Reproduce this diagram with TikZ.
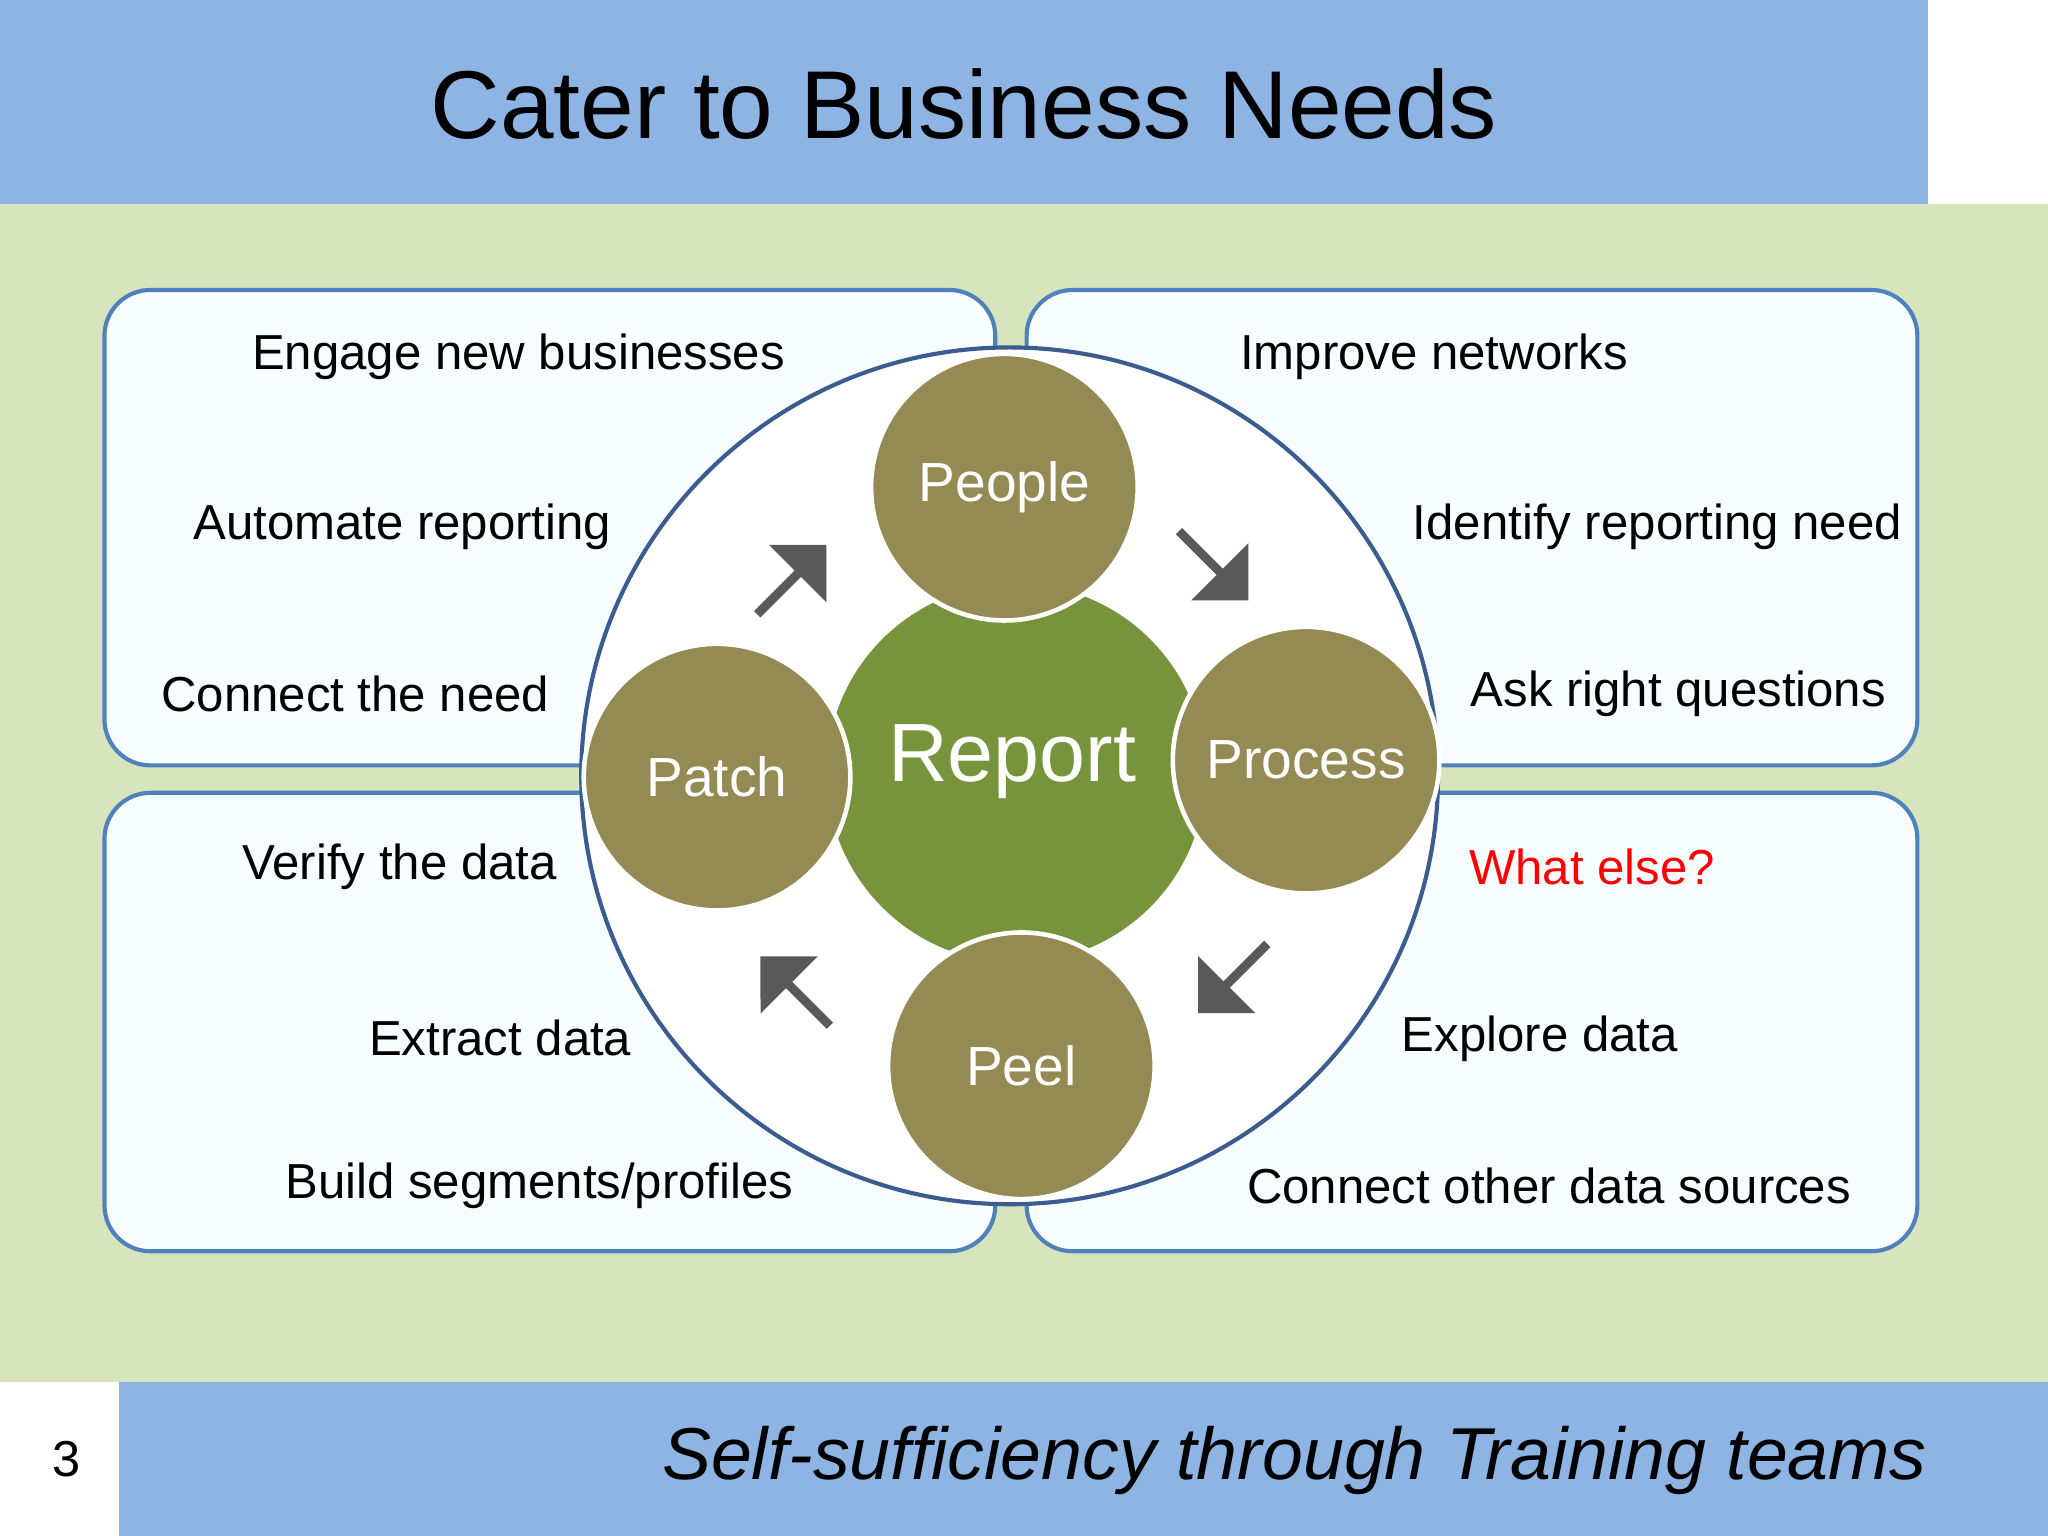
\documentclass[tikz,border=0pt]{standalone}
\usepackage{fontspec}
\setmainfont{Liberation Sans}
\usetikzlibrary{shapes.arrows}
\definecolor{bannerblue}{HTML}{8EB4E3}
\definecolor{bggreen}{HTML}{D7E4BD}
\definecolor{boxline}{HTML}{4F81BD}
\definecolor{ringline}{HTML}{3B5C8E}
\definecolor{centergreen}{HTML}{77933C}
\definecolor{olive}{HTML}{948A54}
\definecolor{arrowgray}{HTML}{595959}
\tikzset{
  quad/.style={draw=boxline,line width=0.9pt,fill=white!97!cyan,rounded corners=10pt},
  petal/.style={circle,fill=olive,draw=white,line width=1pt,minimum size=2.04cm,inner sep=0pt,text=white,font=\fontsize{12pt}{14pt}\selectfont},
  body/.style={font=\fontsize{10.7pt}{13pt}\selectfont,inner sep=0pt},
  blockarrow/.style={single arrow,fill=arrowgray,minimum height=0.75cm,minimum width=0.62cm,single arrow head extend=0.08cm,inner sep=0pt,shape border uses incircle}
}
\begin{document}
\begin{tikzpicture}[x=0.01cm,y=-0.01cm]
\useasboundingbox (0,0) rectangle (1568,1176);
\fill[white] (0,0) rectangle (1568,1176);
\fill[bannerblue] (0,0) rectangle (1476,156);
\fill[bggreen] (0,156) rectangle (1568,1058);
\fill[bannerblue] (91,1058) rectangle (1568,1176);
\node[font=\fontsize{21pt}{25pt}\selectfont] (title) at (738,80) {Cater to Business Needs};
\node (pg) at (51,1117) {\fontsize{11pt}{13pt}\selectfont 3};
\node[anchor=east,font=\fontsize{16pt}{19pt}\selectfont\itshape,inner sep=0pt] (foot) at (1476,1118) {Self-sufficiency through Training teams};

\draw[quad] (80,222) rectangle (762,586);
\draw[quad] (786,222) rectangle (1468,586);
\draw[quad] (80,607) rectangle (762,958);
\draw[quad] (786,607) rectangle (1468,958);

\draw[ringline,fill=white,line width=0.9pt] (773,594) circle (328);
\node[circle,fill=centergreen,minimum size=2.9cm,inner sep=0pt] (rep) at (778,592) {};
\node[petal] (people) at (769,373) {People};
\node[petal] (process) at (1000,582) {Process};
\node[petal] (peel) at (782,816) {Peel};
\node[petal] (patch) at (549,595) {Patch};
\node[text=white,font=\fontsize{18pt}{21pt}\selectfont] (report) at (775,583) {Report};

\node[blockarrow,rotate=45] (a1) at (605,445) {};
\node[blockarrow,rotate=-45] (a2) at (928,432) {};
\node[blockarrow,rotate=-135] (a3) at (945,748) {};
\node[blockarrow,rotate=135] (a4) at (610,760) {};

\node[body] (t1) at (397,273) {Engage new businesses};
\node[body] (t2) at (308,403) {Automate reporting};
\node[body] (t3) at (272,531) {Connect the need};
\node[body] (t4) at (1098,273) {Improve networks};
\node[body] (t5) at (1269,403) {Identify reporting need};
\node[body] (t6) at (1285,531) {Ask right questions};
\node[body] (t7) at (306,664) {Verify the data};
\node[body] (t8) at (383,795) {Extract data};
\node[body] (t9) at (413,908) {Build segments/profiles};
\node[body,text=red] (t10) at (1219,664) {What else?};
\node[body] (t11) at (1179,795) {Explore data};
\node[body] (t12) at (1186,908) {Connect other data sources};
\end{tikzpicture}
\end{document}
